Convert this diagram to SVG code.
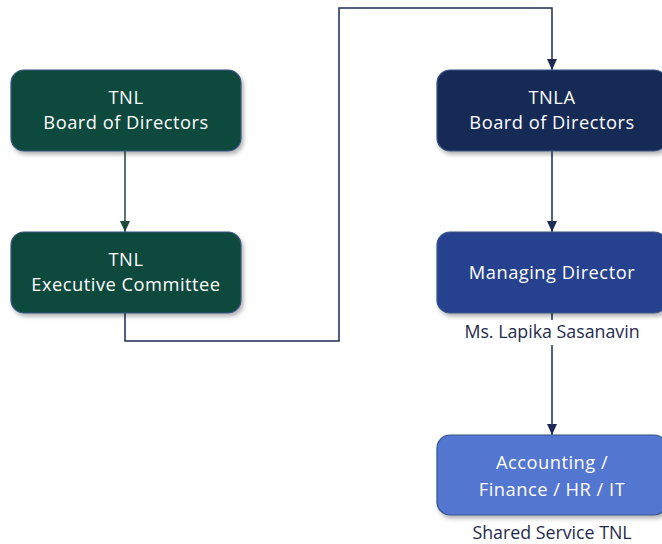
<svg xmlns="http://www.w3.org/2000/svg" width="662" height="544" viewBox="0 0 662 544">
<style>
.box{stroke:#3a5583;stroke-width:1.2;filter:url(#sh)}
.t{font-family:"Open Sans","Noto Sans",sans-serif;font-size:18.3px;letter-spacing:0.5px;fill:#ffffff;text-anchor:middle}
.lbl{font-family:"Open Sans","Noto Sans",sans-serif;font-size:17.8px;fill:#1f2b4d;text-anchor:middle}
.ln{fill:none;stroke-width:1.5}
</style>
<defs>
<filter id="sh" x="-10%" y="-10%" width="125%" height="130%">
<feDropShadow dx="2" dy="3" stdDeviation="2" flood-color="#000" flood-opacity="0.3"/>
</filter>
<marker id="ag" markerWidth="12" markerHeight="10" refX="11" refY="5" orient="auto" markerUnits="userSpaceOnUse">
<path d="M0,0 L11,5 L0,10 Z" fill="#1d4a3d"/>
</marker>
<marker id="ab" markerWidth="12" markerHeight="10" refX="11" refY="5" orient="auto" markerUnits="userSpaceOnUse">
<path d="M0,0 L11,5 L0,10 Z" fill="#1c2a55"/>
</marker>
</defs>
<rect width="662" height="544" fill="#ffffff"/>
<g id="connectors">
<path class="ln" d="M125,151 V232" stroke="#1d4a3d" marker-end="url(#ag)"/>
<path class="ln" d="M125,313 V341 H339 V8 H552 V70" stroke="#1c2a55" marker-end="url(#ab)"/>
<path class="ln" d="M552,151 V232" stroke="#1c2a55" marker-end="url(#ab)"/>
<path class="ln" d="M552,313 V435" stroke="#1c2a55" marker-end="url(#ab)"/>
</g>
<g id="tnl-board">
<rect class="box" x="11" y="70" width="230" height="81" rx="13" fill="#0d4a3e"/>
<text class="t" x="126" y="104">TNL</text>
<text class="t" x="126" y="129">Board of Directors</text>
</g>
<g id="tnl-exec">
<rect class="box" x="11" y="232" width="230" height="81" rx="13" fill="#0d4a3e"/>
<text class="t" x="126" y="266">TNL</text>
<text class="t" x="126" y="291">Executive Committee</text>
</g>
<g id="tnla-board">
<rect class="box" x="437" y="70" width="230" height="81" rx="13" fill="#172a57"/>
<text class="t" x="552" y="104">TNLA</text>
<text class="t" x="552" y="129">Board of Directors</text>
</g>
<g id="md">
<rect class="box" x="437" y="232" width="230" height="81" rx="13" fill="#26428e"/>
<text class="t" x="552" y="279">Managing Director</text>
<rect x="455" y="320" width="194" height="25" fill="#ffffff"/>
<text class="lbl" x="552" y="338">Ms. Lapika Sasanavin</text>
</g>
<g id="shared">
<rect class="box" x="437" y="435" width="230" height="80" rx="13" fill="#5276d0"/>
<text class="t" x="552" y="469">Accounting /</text>
<text class="t" x="552" y="496">Finance / HR / IT</text>
<text class="lbl" x="552" y="539">Shared Service TNL</text>
</g>
</svg>
